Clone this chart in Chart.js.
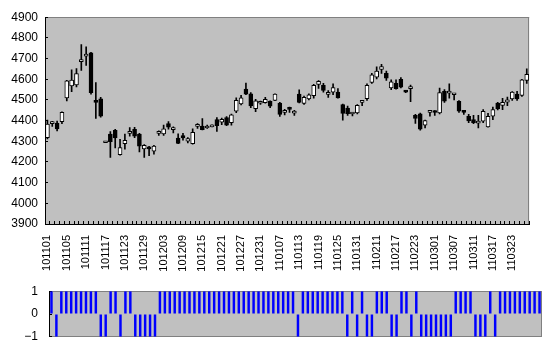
<!DOCTYPE html>
<html><head><meta charset="utf-8">
<script src="https://cdn.jsdelivr.net/npm/chart.js@4"></script>
<style>
html,body{margin:0;padding:0;background:#fff;width:554px;height:358px;overflow:hidden}
#c1{position:absolute;left:0;top:0}
#c2{position:absolute;left:0;top:270px}
</style></head><body>
<canvas id="c1" width="554" height="275"></canvas>
<canvas id="c2" width="554" height="88"></canvas>
<script>
const dates = [
 '101101','101102','101103','101104','101105','101108','101109','101110','101111','101112',
 '101115','101116','101117','101118','101119','101122','101123','101124','101125','101126',
 '101129','101130','101201','101202','101203','101206','101207','101208','101209','101210',
 '101213','101214','101215','101216','101217','101220','101221','101222','101223','101224',
 '101227','101228','101229','101230','101231','110104','110105','110106','110107','110110',
 '110111','110112','110113','110114','110117','110118','110119','110120','110121','110124',
 '110125','110126','110127','110128','110131','110201','110202','110203','110211','110214',
 '110215','110216','110217','110218','110221','110222','110223','110224','110225','110228',
 '110301','110302','110303','110304','110307','110308','110309','110310','110311','110314',
 '110315','110316','110317','110318','110321','110322','110323','110324','110325','110328'
];
const opens = [
 4318,4385,4388,4395,4510,4568,4572,4685,4712,4728,
 4490,4505,4293,4335,4353,4235,4288,4338,4358,4335,
 4263,4268,4252,4338,4335,4385,4356,4315,4328,4300,
 4288,4372,4374,4364,4370,4405,4392,4415,4390,4446,
 4481,4553,4530,4458,4484,4487,4494,4498,4485,4440,
 4458,4436,4528,4483,4505,4520,4575,4570,4527,4538,
 4538,4477,4460,4432,4437,4488,4506,4585,4610,4647,
 4629,4558,4580,4600,4542,4555,4425,4433,4378,4440,
 4441,4437,4541,4533,4525,4493,4443,4421,4405,4388,
 4397,4370,4421,4485,4473,4489,4505,4528,4522,4594
];
const highs = [
 4402,4397,4398,4443,4595,4645,4652,4768,4757,4730,
 4584,4512,4300,4347,4358,4310,4335,4366,4368,4338,
 4284,4275,4280,4350,4378,4395,4370,4336,4338,4318,
 4360,4385,4410,4378,4380,4415,4412,4420,4432,4510,
 4522,4582,4535,4503,4494,4512,4496,4530,4488,4455,
 4465,4450,4549,4518,4530,4575,4594,4580,4545,4578,
 4555,4480,4470,4440,4478,4492,4578,4628,4660,4672,
 4640,4597,4597,4608,4546,4572,4430,4436,4403,4450,
 4449,4557,4550,4578,4530,4497,4448,4430,4425,4425,
 4453,4435,4465,4488,4508,4514,4540,4541,4600,4650
];
const lows = [
 4312,4372,4350,4385,4495,4540,4563,4643,4667,4528,
 4410,4416,4293,4222,4268,4233,4262,4325,4318,4248,
 4222,4230,4238,4328,4328,4358,4340,4288,4305,4292,
 4286,4362,4355,4362,4370,4348,4380,4376,4378,4438,
 4476,4525,4462,4443,4478,4484,4462,4496,4420,4428,
 4440,4425,4486,4478,4500,4508,4556,4538,4512,4525,
 4508,4402,4425,4423,4432,4472,4498,4580,4601,4628,
 4594,4550,4552,4558,4535,4492,4386,4354,4365,4422,
 4425,4432,4488,4509,4500,4440,4430,4390,4385,4365,
 4390,4368,4405,4452,4453,4472,4497,4498,4517,4580
];
const closes = [
 4383,4388,4360,4440,4592,4596,4627,4690,4716,4535,
 4488,4422,4296,4298,4316,4270,4305,4340,4325,4276,
 4280,4263,4277,4341,4360,4368,4366,4290,4316,4313,
 4343,4375,4356,4367,4373,4376,4406,4378,4428,4498,
 4510,4528,4471,4496,4487,4503,4470,4528,4430,4443,
 4454,4439,4488,4512,4525,4570,4590,4546,4530,4560,
 4510,4435,4434,4435,4474,4490,4570,4621,4640,4661,
 4605,4588,4554,4562,4538,4558,4410,4358,4400,4443,
 4439,4536,4494,4535,4527,4446,4440,4398,4390,4390,
 4445,4421,4453,4457,4488,4500,4538,4505,4597,4624
];
const signal = [
 1,-1,1,1,1,1,1,1,1,1,
 -1,-1,1,1,-1,1,1,-1,-1,-1,
 -1,-1,1,1,1,1,1,1,1,1,
 1,1,1,1,1,1,1,1,1,1,
 1,1,1,1,1,1,1,1,1,1,
 -1,1,1,1,1,1,1,1,1,1,
 -1,1,-1,1,-1,-1,1,1,1,-1,
 -1,1,1,-1,1,-1,-1,-1,-1,-1,
 -1,-1,1,1,1,1,-1,-1,-1,1,
 -1,1,1,1,1,1,1,1,1,1
];
const priceMin = 3900, priceMax = 4900, priceStep = 100;
const signalMin = -1, signalMax = 1, signalStep = 1;
const labelEvery = 4;

function framePlugin(sides){
  return {
    id:'frame',
    beforeDraw(chart){
      const {ctx, chartArea:a} = chart;
      ctx.save();
      ctx.fillStyle = '#C0C0C0';
      ctx.fillRect(a.left, a.top, a.right - a.left, a.bottom - a.top);
      ctx.strokeStyle = '#808080';
      ctx.lineWidth = 1;
      ctx.beginPath();
      const t = Math.round(a.top) + 0.5, r = Math.round(a.right) - 0.5, b = Math.round(a.bottom) - 0.5;
      if (sides.includes('top')) { ctx.moveTo(a.left, t); ctx.lineTo(a.right, t); }
      if (sides.includes('right')) { ctx.moveTo(r, a.top); ctx.lineTo(r, a.bottom); }
      if (sides.includes('bottom')) { ctx.moveTo(a.left, b); ctx.lineTo(a.right, b); }
      ctx.stroke();
      ctx.restore();
    }
  };
}

const FONT = "'Liberation Sans', Arial, sans-serif";

new Chart(document.getElementById('c1'), {
  type: 'bar',
  data: {
    labels: dates,
    datasets: [
      {
        label: 'body',
        data: opens.map((o, i) => [o, closes[i]]),
        backgroundColor: opens.map((o, i) => closes[i] >= o ? '#FFFFFF' : '#000000'),
        borderColor: '#000000',
        borderWidth: 1,
        borderSkipped: false,
        barThickness: 4,
        minBarLength: 2,
        grouped: false,
        order: 0
      },
      {
        label: 'wick',
        data: lows.map((l, i) => [l, highs[i]]),
        backgroundColor: '#000000',
        borderWidth: 0,
        barThickness: 1,
        grouped: false,
        order: 1
      }
    ]
  },
  options: {
    responsive: false,
    animation: false,
    devicePixelRatio: 1,
    layout: { padding: { top: 15, right: 8, left: 0, bottom: 0 } },
    plugins: { legend: { display: false }, tooltip: { enabled: false } },
    scales: {
      x: {
        offset: true,
        grid: { offset: true, drawOnChartArea: false, tickLength: -3, color: '#000000' },
        border: { color: '#000000' },
        ticks: {
          autoSkip: false, maxRotation: 90, minRotation: 90, padding: 14,
          color: '#000000', font: { family: FONT, size: 11 },
          callback: (v, i) => i % labelEvery === 0 ? dates[i] : ''
        },
        afterFit: s => { s.height = 51; }
      },
      y: {
        min: priceMin, max: priceMax,
        ticks: {
          stepSize: priceStep, padding: 10, color: '#000000', font: { family: FONT, size: 12 },
          callback: v => String(v)
        },
        grid: { drawOnChartArea: false, tickLength: -3, color: '#000000' },
        border: { color: '#000000' },
        afterFit: s => { s.width = 45; }
      }
    }
  },
  plugins: [framePlugin(['top', 'right'])]
});

new Chart(document.getElementById('c2'), {
  type: 'bar',
  data: {
    labels: dates,
    datasets: [{
      label: 'signal',
      data: signal,
      backgroundColor: '#0000FF',
      borderWidth: 0,
      categoryPercentage: 1,
      barPercentage: 0.5
    }]
  },
  options: {
    responsive: false,
    animation: false,
    devicePixelRatio: 1,
    layout: { padding: { top: 13, right: 12, left: 0, bottom: 9 } },
    plugins: { legend: { display: false }, tooltip: { enabled: false } },
    scales: {
      x: { display: false, offset: true },
      y: {
        min: signalMin, max: signalMax,
        ticks: {
          stepSize: signalStep, padding: 14, color: '#000000', font: { family: FONT, size: 12 },
          callback: v => String(v).replace('-', '\u2212')
        },
        grid: { drawOnChartArea: false, tickLength: -3, color: '#000000' },
        border: { color: '#000000' },
        afterFit: s => { s.width = 49; }
      }
    }
  },
  plugins: [framePlugin(['top', 'right', 'bottom'])]
});
</script>
</body></html>
